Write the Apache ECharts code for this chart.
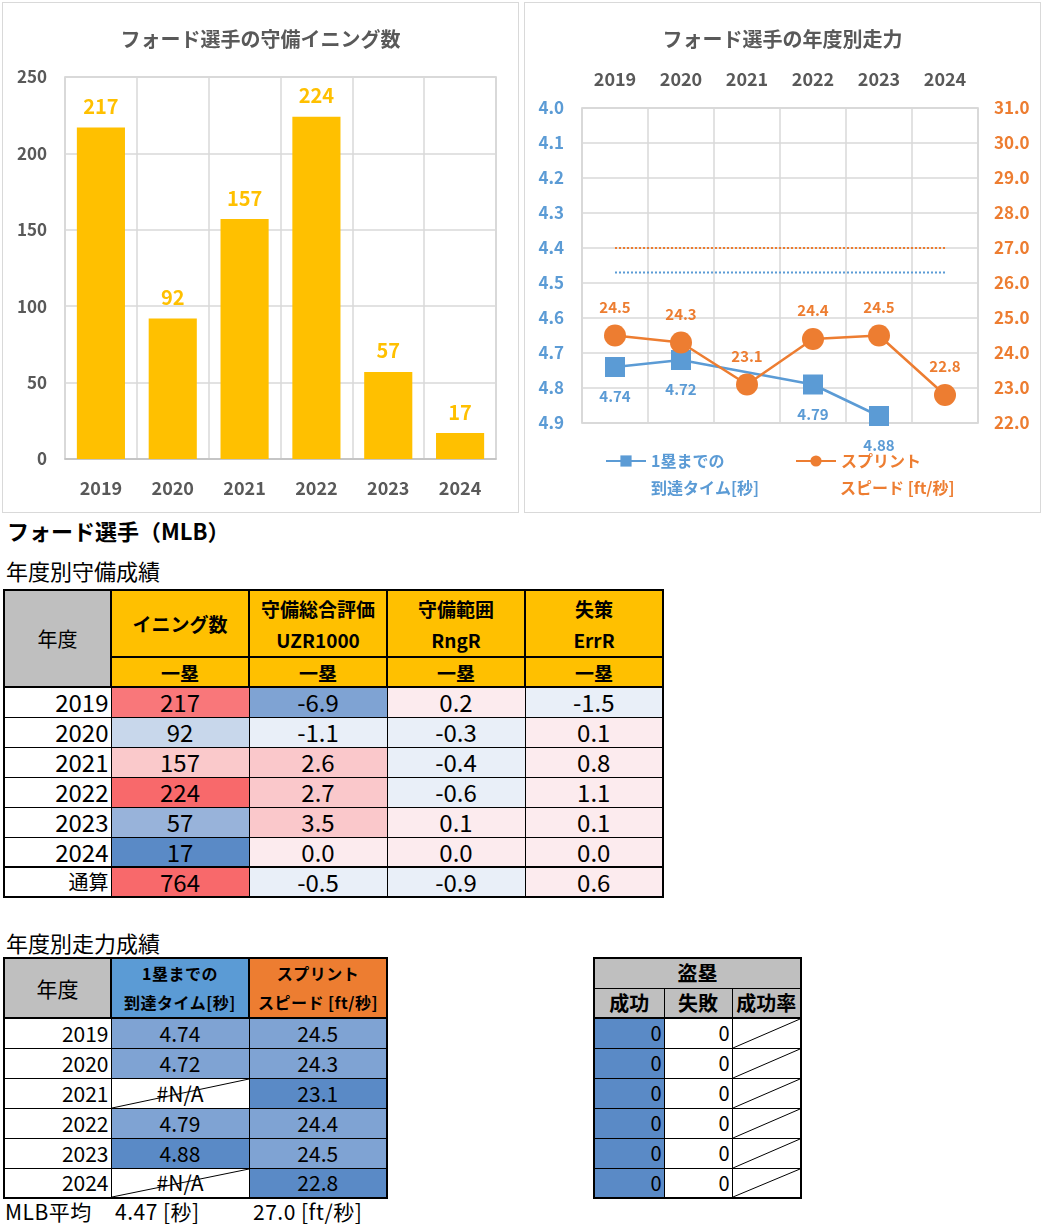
<!DOCTYPE html>
<html>
<head>
<meta charset="utf-8">
<script src="https://cdn.jsdelivr.net/npm/echarts@6/dist/echarts.min.js"></script>
<style>
  html, body { margin: 0; padding: 0; background: #fff; }
  body { width: 1044px; height: 1230px; position: relative; overflow: hidden;
         font-family: "Noto Sans CJK JP", "Noto Sans", sans-serif; color: #000; }
  .panel { position: absolute; box-sizing: border-box; border: 1px solid #d9d9d9; background: #fff; }
  .txt { position: absolute; white-space: nowrap; line-height: 1; }
  table { position: absolute; border-collapse: collapse; table-layout: fixed; }
  td { padding: 0; text-align: center; vertical-align: middle; border: 1px solid #000; overflow: hidden; white-space: nowrap; line-height: 1; }
  .t1 td { font-family: "Liberation Sans Narrow", "Noto Sans CJK JP", sans-serif; font-size: 24px; }
  .t1 td.h { font-family: "Noto Sans CJK JP", sans-serif; font-weight: bold; font-size: 19px; line-height: 31px; }
  .t1 td.h1 { font-size: 19px; line-height: 1; }
  .t1 td.hy { font-family: "Noto Sans CJK JP", sans-serif; font-size: 20px; }
  .t1 td.cj { font-family: "Noto Sans CJK JP", sans-serif; font-size: 20px; }
  .t2 td { font-size: 21px; font-family: "Noto Sans CJK JP", sans-serif; }
  .t2 td.h { font-weight: bold; font-size: 16px; line-height: 29px; letter-spacing: 0.5px; }
  .t3 td { font-size: 20px; font-family: "Noto Sans CJK JP", sans-serif; }
  .yr { text-align: right; padding-right: 2px; }
  .na { background-image: url("data:image/svg+xml;utf8,<svg xmlns='http://www.w3.org/2000/svg' preserveAspectRatio='none' viewBox='0 0 100 100'><line x1='0' y1='100' x2='100' y2='0' stroke='black' stroke-width='1' vector-effect='non-scaling-stroke'/></svg>");
        background-size: 100% 100%; background-repeat: no-repeat; }
</style>
</head>
<body>
<div id="c1" class="panel" style="left:2px;top:2px;width:517px;height:511px;"></div>
<div id="c2" class="panel" style="left:524px;top:2px;width:517px;height:511px;"></div>

<div class="txt" style="left:7px;top:519px;font-size:22px;font-weight:bold;">フォード選手（MLB）</div>
<div class="txt" style="left:6px;top:559px;font-size:22px;">年度別守備成績</div>
<table id="t1" class="t1" style="left:3px;top:589px;"></table>

<div class="txt" style="left:6px;top:931px;font-size:22px;">年度別走力成績</div>
<table id="t2" class="t2" style="left:3px;top:957px;"></table>
<table id="t3" class="t3" style="left:593px;top:957px;"></table>

<div class="txt" style="left:5px;top:1201px;font-size:21px;letter-spacing:0.5px;">MLB平均</div>
<div class="txt" id="avgTime" style="left:115px;top:1201px;font-size:21px;letter-spacing:0.5px;"></div>
<div class="txt" id="avgSprint" style="left:253px;top:1201px;font-size:21px;letter-spacing:0.5px;"></div>

<script>
// ---------------- data ----------------
var years = ['2019', '2020', '2021', '2022', '2023', '2024'];
var innings = [217, 92, 157, 224, 57, 17];
var uzr = [-6.9, -1.1, 2.6, 2.7, 3.5, 0.0];
var rngR = [0.2, -0.3, -0.4, -0.6, 0.1, 0.0];
var errR = [-1.5, 0.1, 0.8, 1.1, 0.1, 0.0];
var totalLabel = '通算';
var totals = [764, -0.5, -0.9, 0.6];
var timeTo1B = [4.74, 4.72, null, 4.79, 4.88, null];
var sprintSpeed = [24.5, 24.3, 23.1, 24.4, 24.5, 22.8];
var mlbAvgTime = 4.47;
var mlbAvgSprint = 27.0;
var sbSuccess = [0, 0, 0, 0, 0, 0];
var sbFail = [0, 0, 0, 0, 0, 0];

// ---------------- styles (cell colours) ----------------
var colInnings = ['#F9777A', '#C8D7EB', '#FAC9CB', '#F8696B', '#98B3DA', '#5A8AC6'];
var colUzr = ['#7FA3D3', '#E9EFF8', '#FAC8CB', '#FAC8CB', '#FAC8CB', '#FCEBEE'];
var colRng = ['#FCEBEE', '#E9EFF8', '#E9EFF8', '#E9EFF8', '#FCEBEE', '#FCEBEE'];
var colErr = ['#E9EFF8', '#FCEBEE', '#FCEBEE', '#FCEBEE', '#FCEBEE', '#FCEBEE'];
var colTotals = ['#F8696B', '#E9EFF8', '#E9EFF8', '#FCEBEE'];
var colTime = ['#7FA3D3', '#7FA3D3', '#FFFFFF', '#7FA3D3', '#5A8AC6', '#FFFFFF'];
var colSprint = ['#7FA3D3', '#7FA3D3', '#5A8AC6', '#7FA3D3', '#7FA3D3', '#5A8AC6'];

var GRAY = '#595959', BLUE = '#5B9BD5', ORANGE = '#ED7D31', YELLOW = '#FFC000';
var FONT = '"Noto Sans CJK JP", "Noto Sans", sans-serif';

// ---------------- chart 1 ----------------
var ch1 = echarts.init(document.getElementById('c1'), null, { renderer: 'canvas' });
ch1.setOption({
  animation: false,
  textStyle: { fontFamily: FONT },
  title: {
    text: 'フォード選手の守備イニング数', left: 'center', top: 21,
    textStyle: { color: GRAY, fontSize: 20, fontWeight: 'bold', fontFamily: FONT }
  },
  grid: { left: 62, top: 74, width: 431, height: 382, show: true, borderColor: '#d0d0d0', borderWidth: 1.5 },
  xAxis: {
    type: 'category', data: years,
    axisLine: { lineStyle: { color: '#bfbfbf', width: 1.5 } },
    axisTick: { show: false },
    splitLine: { show: true, lineStyle: { color: '#d9d9d9', width: 1.5 } },
    axisLabel: { color: GRAY, fontSize: 18, fontWeight: 'bold', margin: 20, fontFamily: FONT }
  },
  yAxis: {
    type: 'value', min: 0, max: 250, interval: 50,
    axisLine: { show: false }, axisTick: { show: false },
    splitLine: { lineStyle: { color: '#d9d9d9', width: 1.5 } },
    axisLabel: { color: GRAY, fontSize: 17, fontWeight: 'bold', margin: 18, fontFamily: FONT }
  },
  series: [{
    type: 'bar', data: innings, barCategoryGap: '33%',
    itemStyle: { color: YELLOW },
    label: { show: true, position: 'top', distance: 11, color: YELLOW, fontSize: 20, fontWeight: 'bold', fontFamily: FONT }
  }]
});

// ---------------- chart 2 ----------------
var nameTime = '1塁までの到達タイム[秒]';
var nameSprint = 'スプリントスピード [ft/秒]';
var ch2 = echarts.init(document.getElementById('c2'), null, { renderer: 'canvas' });
ch2.setOption({
  animation: false,
  textStyle: { fontFamily: FONT },
  title: {
    text: 'フォード選手の年度別走力', left: 'center', top: 21,
    textStyle: { color: GRAY, fontSize: 20, fontWeight: 'bold', fontFamily: FONT }
  },
  grid: { left: 57, top: 105, width: 396, height: 315, show: true, borderColor: '#d0d0d0', borderWidth: 1.5 },
  legend: [
    { data: [nameTime], left: 75, top: 445, itemWidth: 40, itemHeight: 14, formatter: function () { return '1塁までの'; },
      textStyle: { color: BLUE, fontSize: 16, fontWeight: 'bold', fontFamily: FONT } },
    { data: [nameSprint], left: 265, top: 445, itemWidth: 40, itemHeight: 14, formatter: function () { return 'スプリント'; },
      textStyle: { color: ORANGE, fontSize: 16, fontWeight: 'bold', fontFamily: FONT } }
  ],
  graphic: [
    { type: 'text', left: 126, top: 477, style: { text: '到達タイム[秒]', fill: BLUE, font: 'bold 16px ' + FONT } },
    { type: 'text', left: 315, top: 477, style: { text: 'スピード [ft/秒]', fill: ORANGE, font: 'bold 16px ' + FONT } }
  ],
  xAxis: {
    type: 'category', data: years, position: 'top',
    axisLine: { show: false }, axisTick: { show: false },
    splitLine: { show: true, lineStyle: { color: '#d9d9d9', width: 1.5 } },
    axisLabel: { color: GRAY, fontSize: 18, fontWeight: 'bold', margin: 20, fontFamily: FONT }
  },
  yAxis: [
    { type: 'value', inverse: true, min: 4.0, max: 4.9, interval: 0.1,
      axisLine: { show: false }, axisTick: { show: false },
      splitLine: { lineStyle: { color: '#d9d9d9', width: 1.5 } },
      axisLabel: { color: BLUE, fontSize: 17, fontWeight: 'bold', margin: 18, fontFamily: FONT,
        formatter: function (v) { return v.toFixed(1); } } },
    { type: 'value', min: 22, max: 31, interval: 1,
      axisLine: { show: false }, axisTick: { show: false }, splitLine: { show: false },
      axisLabel: { color: ORANGE, fontSize: 17, fontWeight: 'bold', margin: 16, fontFamily: FONT,
        formatter: function (v) { return v.toFixed(1); } } }
  ],
  series: [
    { name: 'MLB平均タイム', type: 'line', yAxisIndex: 0, data: years.map(function () { return mlbAvgTime; }),
      symbol: 'none', silent: true, lineStyle: { color: BLUE, type: 'dotted', width: 2 }, itemStyle: { color: BLUE } },
    { name: 'MLB平均スプリント', type: 'line', yAxisIndex: 1, data: years.map(function () { return mlbAvgSprint; }),
      symbol: 'none', silent: true, lineStyle: { color: ORANGE, type: 'dotted', width: 2 }, itemStyle: { color: ORANGE } },
    { name: nameTime, type: 'line', yAxisIndex: 0, data: timeTo1B, connectNulls: true,
      symbol: 'rect', symbolSize: 20, lineStyle: { color: BLUE, width: 2.5 }, itemStyle: { color: BLUE },
      label: { show: true, position: 'bottom', distance: 12, color: BLUE, fontSize: 15, fontWeight: 'bold', fontFamily: FONT,
        formatter: function (p) { return p.value.toFixed(2); } } },
    { name: nameSprint, type: 'line', yAxisIndex: 1, data: sprintSpeed,
      symbol: 'circle', symbolSize: 22, lineStyle: { color: ORANGE, width: 2.5 }, itemStyle: { color: ORANGE },
      label: { show: true, position: 'top', distance: 10, color: ORANGE, fontSize: 15, fontWeight: 'bold', fontFamily: FONT,
        formatter: function (p) { return p.value.toFixed(1); } } }
  ]
});

// ---------------- tables ----------------
function cell(text, bg, cls, extra) {
  return '<td' + (cls ? ' class="' + cls + '"' : '') + ' style="background-color:' + bg + ';' + (extra || '') + '">' + text + '</td>';
}
var TH = 'border-width:2px;';
// table 1
(function () {
  var w = [107, 138, 138, 138, 138];
  var h = '<colgroup>' + w.map(function (x) { return '<col style="width:' + x + 'px">'; }).join('') + '</colgroup>';
  h += '<tr style="height:67px">' +
    '<td rowspan="2" class="hy" style="background:#BFBFBF;border:2px solid #000;">年度</td>' +
    cell('イニング数', YELLOW, 'h', TH) +
    cell('守備総合評価<br>UZR1000', YELLOW, 'h', TH) +
    cell('守備範囲<br>RngR', YELLOW, 'h', TH) +
    cell('失策<br>ErrR', YELLOW, 'h', TH) + '</tr>';
  h += '<tr style="height:30px">' + [1, 2, 3, 4].map(function () { return cell('一塁', YELLOW, 'h h1', TH); }).join('') + '</tr>';
  for (var i = 0; i < years.length; i++) {
    var top = i === 0 ? 'border-top-width:2px;' : '';
    h += '<tr style="height:30px">' +
      cell(years[i], '#fff', 'yr', top) +
      cell(innings[i], colInnings[i], '', top) +
      cell(uzr[i].toFixed(1), colUzr[i], '', top) +
      cell(rngR[i].toFixed(1), colRng[i], '', top) +
      cell(errR[i].toFixed(1), colErr[i], '', top) + '</tr>';
  }
  var tt = 'border-top-width:2px;';
  h += '<tr style="height:30px">' + cell(totalLabel, '#fff', 'yr cj', tt) +
    cell(totals[0], colTotals[0], '', tt) +
    cell(totals[1].toFixed(1), colTotals[1], '', tt) +
    cell(totals[2].toFixed(1), colTotals[2], '', tt) +
    cell(totals[3].toFixed(1), colTotals[3], '', tt) + '</tr>';
  var t = document.getElementById('t1');
  t.innerHTML = h;
  t.style.border = '2px solid #000';
})();
// table 2
(function () {
  var w = [107, 138, 138];
  var h = '<colgroup>' + w.map(function (x) { return '<col style="width:' + x + 'px">'; }).join('') + '</colgroup>';
  h += '<tr style="height:60px">' +
    '<td style="background:#BFBFBF;border:2px solid #000;">年度</td>' +
    cell('1塁までの<br>到達タイム[秒]', BLUE, 'h', TH) +
    cell('スプリント<br>スピード [ft/秒]', ORANGE, 'h', TH) + '</tr>';
  for (var i = 0; i < years.length; i++) {
    var top = i === 0 ? 'border-top-width:2px;' : '';
    var tv = timeTo1B[i];
    h += '<tr style="height:30px">' +
      cell(years[i], '#fff', 'yr', top) +
      (tv === null ? cell('#N/A', '#fff', 'na', top) : cell(tv.toFixed(2), colTime[i], '', top)) +
      cell(sprintSpeed[i].toFixed(1), colSprint[i], '', top) + '</tr>';
  }
  var t = document.getElementById('t2');
  t.innerHTML = h;
  t.style.border = '2px solid #000';
  document.getElementById('avgTime').textContent = mlbAvgTime.toFixed(2) + ' [秒]';
  document.getElementById('avgSprint').textContent = mlbAvgSprint.toFixed(1) + ' [ft/秒]';
})();
// table 3
(function () {
  var w = [70, 68, 69];
  var h = '<colgroup>' + w.map(function (x) { return '<col style="width:' + x + 'px">'; }).join('') + '</colgroup>';
  h += '<tr style="height:30px"><td colspan="3" style="background:#BFBFBF;font-weight:bold;">盗塁</td></tr>';
  h += '<tr style="height:30px">' +
    ['成功', '失敗', '成功率'].map(function (s) { return '<td style="background:#BFBFBF;font-weight:bold;">' + s + '</td>'; }).join('') + '</tr>';
  for (var i = 0; i < sbSuccess.length; i++) {
    var top = i === 0 ? 'border-top-width:2px;' : '';
    h += '<tr style="height:30px">' +
      cell(sbSuccess[i], '#5A8AC6', 'yr', top) +
      cell(sbFail[i], '#fff', 'yr', top) +
      cell('', '#fff', 'na', top) + '</tr>';
  }
  var t = document.getElementById('t3');
  t.innerHTML = h;
  t.style.border = '2px solid #000';
})();
</script>
</body>
</html>
